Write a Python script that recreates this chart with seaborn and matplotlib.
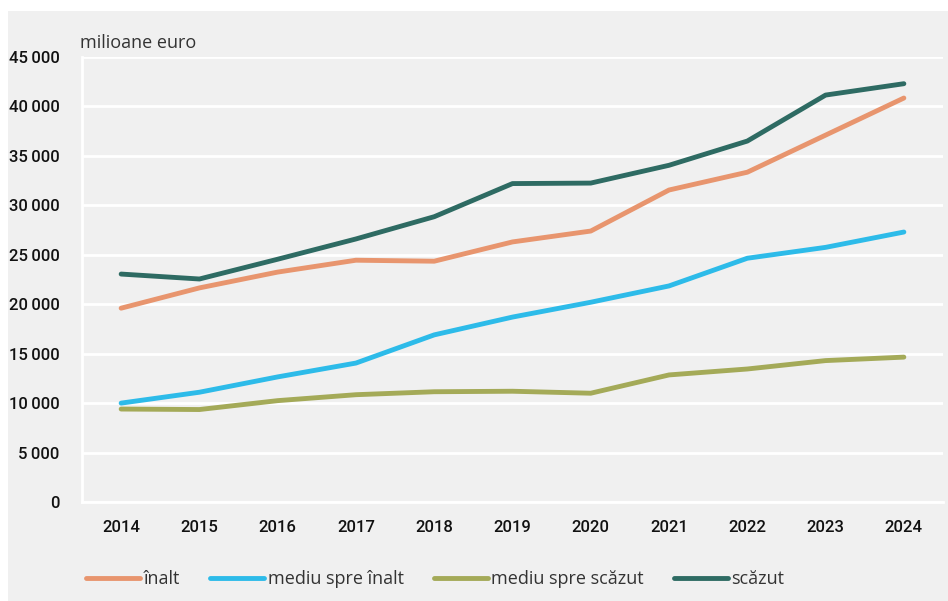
import matplotlib
matplotlib.use("Agg")
import matplotlib.pyplot as plt
from matplotlib.patches import Rectangle
from matplotlib.ticker import FuncFormatter, FixedLocator
import seaborn as sns
import pandas as pd

years = ["2014", "2015", "2016", "2017", "2018", "2019", "2020", "2021", "2022", "2023", "2024"]
inalt = [19600, 21650, 23250, 24450, 24350, 26300, 27400, 31550, 33350, 37100, 40850]
mediu_inalt = [10000, 11100, 12650, 14050, 16900, 18700, 20200, 21850, 24650, 25750, 27300]
mediu_scazut = [9400, 9350, 10250, 10850, 11150, 11200, 11000, 12850, 13450, 14300, 14650]
scazut = [23050, 22550, 24550, 26600, 28850, 32200, 32250, 34050, 36500, 41150, 42300]
series = ["înalt", "mediu spre înalt", "mediu spre scăzut", "scăzut"]
colors = ["#E8956E", "#2DBBE9", "#A4AA58", "#2E6B63"]

df = pd.DataFrame({"an": years, series[0]: inalt, series[1]: mediu_inalt,
                   series[2]: mediu_scazut, series[3]: scazut})
df = df.melt(id_vars="an", var_name="serie", value_name="valoare")

sns.set_theme(style="white")
plt.rcParams["font.family"] = ["Roboto", "DejaVu Sans"]

fig = plt.figure(figsize=(9.48, 6.01), dpi=100, facecolor="white")
fig.patches.append(Rectangle((8 / 948, 0), 1, 1 - 11 / 601, transform=fig.transFigure,
                             facecolor="#f0f0f0", edgecolor="none", zorder=-10))
ax = fig.add_axes([82 / 948, 1 - 502 / 601, (943 - 82) / 948, (502 - 57) / 601])
ax.set_facecolor("none")

sns.lineplot(data=df, x="an", y="valoare", hue="serie", hue_order=series,
             palette=colors, linewidth=3.5, ax=ax, sort=False,
             solid_capstyle="round", legend=True)

ax.set_xlim(-0.5, 10.5)
ax.set_ylim(0, 45000)
ax.set_yticks(range(0, 45001, 5000))
ax.yaxis.set_major_formatter(FuncFormatter(
    lambda v, p: f"{int(v):,}".replace(",", "\u2009")))
ax.grid(axis="y", color="white", linewidth=2)
ax.set_axisbelow(True)
for s in ["top", "right"]:
    ax.spines[s].set_visible(False)
for s in ["left", "bottom"]:
    ax.spines[s].set_color("white")
    ax.spines[s].set_linewidth(2)

ax.xaxis.set_major_locator(FixedLocator(range(len(years))))
ax.xaxis.set_minor_locator(FixedLocator([i - 0.5 for i in range(len(years) + 1)]))
ax.tick_params(axis="x", which="major", length=0, pad=13, labelsize=12, labelcolor="#111111")
ax.tick_params(axis="x", which="minor", length=5, width=2, color="white", direction="out")
ax.tick_params(axis="y", length=5, width=2, color="white", pad=11, labelsize=12, labelcolor="#111111")
for lbl in ax.get_xticklabels() + ax.get_yticklabels():
    lbl.set_fontweight("medium")
ax.set_xlabel("")
ax.set_ylabel("")

fig.text(80 / 948, 1 - 43 / 601, "milioane euro", fontsize=13, color="#333333",
         family=["Open Sans", "DejaVu Sans"], va="center", ha="left")

handles, labels = ax.get_legend_handles_labels()
ax.legend(handles, labels, loc="center left", bbox_to_anchor=(86 / 948, 1 - 579 / 601),
          bbox_transform=fig.transFigure, ncol=4, frameon=False, handlelength=3.0,
          handletextpad=0.2, columnspacing=1.65, borderpad=0, borderaxespad=0,
          prop={"family": ["Open Sans", "DejaVu Sans"], "size": 13})
for t in ax.get_legend().get_texts():
    t.set_color("#333333")

fig.savefig("out.png", dpi=100, facecolor="white")
